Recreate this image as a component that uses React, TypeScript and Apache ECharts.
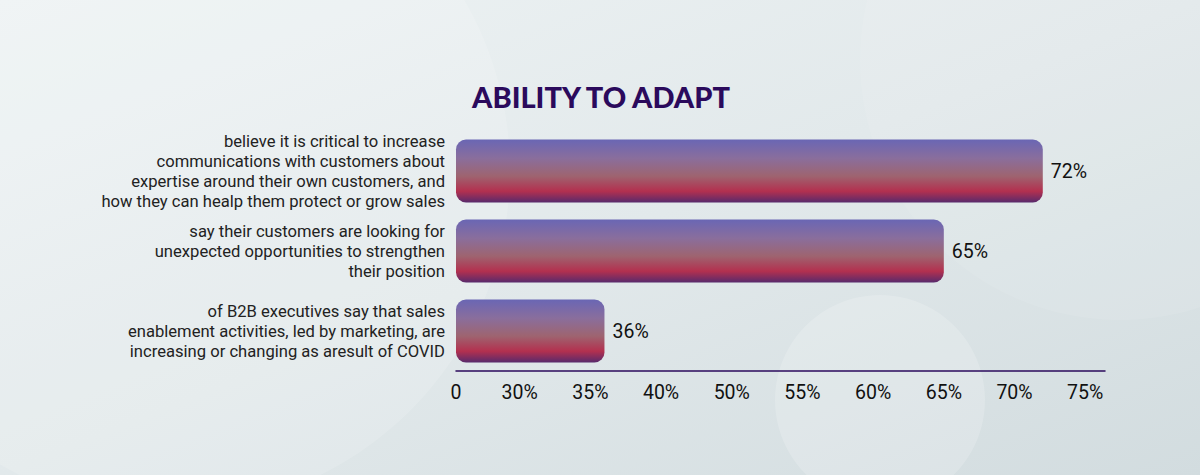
import React, { useEffect, useRef } from "react";
import * as echarts from "echarts";

const title = "ABILITY TO ADAPT";
const categories = [
  "believe it is critical to increase\ncommunications with customers about\nexpertise around their own customers, and\nhow they can healp them protect or grow sales",
  "say their customers are looking for\nunexpected opportunities to strengthen\ntheir position",
  "of B2B executives say that sales\nenablement activities, led by marketing, are\nincreasing or changing as aresult of COVID",
];
const values = [72, 65, 36];
const tickValues = [0, 30, 35, 40, 50, 55, 60, 65, 70, 75];
const tickLabels = ["0", "30%", "35%", "40%", "50%", "55%", "60%", "65%", "70%", "75%"];

export default function App() {
  const ref = useRef<HTMLDivElement>(null);
  useEffect(() => {
    if (!ref.current) return;
    const chart = echarts.init(ref.current, null, { renderer: "svg" });
    const barGradient = new echarts.graphic.LinearGradient(0, 0, 0, 1, [
      { offset: 0, color: "#6a66b4" },
      { offset: 0.3, color: "#8a6e9c" },
      { offset: 0.58, color: "#9e6470" },
      { offset: 0.82, color: "#b3304f" },
      { offset: 1, color: "#582a6c" },
    ]);
    chart.setOption({
      animation: false,
      backgroundColor: new echarts.graphic.LinearGradient(0, 0, 1, 1, [
        { offset: 0, color: "#eef3f4" },
        { offset: 0.5, color: "#e2e9eb" },
        { offset: 1, color: "#d2dcdf" },
      ]),
      graphic: [
        { type: "circle", silent: true, z: -10, shape: { cx: 170, cy: 170, r: 340 }, style: { fill: "rgba(255,255,255,0.14)" } },
        { type: "circle", silent: true, z: -10, shape: { cx: 1120, cy: 60, r: 260 }, style: { fill: "rgba(255,255,255,0.08)" } },
        { type: "circle", silent: true, z: -10, shape: { cx: 880, cy: 400, r: 105 }, style: { fill: "rgba(255,255,255,0.18)" } },
      ],
      title: {
        text: title,
        left: 596,
        textAlign: "center",
        top: 77,
        textStyle: {
          fontFamily: "Lato",
          fontWeight: 900,
          fontSize: 29,
          color: "#2b0a5c",
        },
      },
      grid: { left: 456, right: 95, top: 131, bottom: 104, containLabel: false },
      xAxis: [
        {
          type: "value",
          min: 0,
          max: 76.4,
          interval: 5,
          breaks: [
            { start: 0, end: 30, gap: 4.5 },
            { start: 40, end: 50, gap: 5 },
          ],
          breakArea: { show: false },
          splitLine: { show: false },
          axisTick: { show: false },
          axisLine: { show: false },
          axisLabel: {
            showMaxLabel: false,
            margin: 11,
            fontFamily: "Roboto",
            fontSize: 19.5,
            color: "#111111",
            formatter: (v: number) => {
              const i = tickValues.indexOf(Math.round(v * 100) / 100);
              return i >= 0 ? tickLabels[i] : "";
            },
          },
        },
        {
          type: "value",
          position: "bottom",
          min: 0,
          max: 1,
          splitLine: { show: false },
          axisTick: { show: false },
          axisLabel: { show: false },
          axisLine: { show: true, onZero: false, lineStyle: { color: "#2b0a5c", width: 1.5 } },
        },
      ],
      yAxis: {
        type: "category",
        inverse: true,
        data: categories,
        axisLine: { show: false },
        axisTick: { show: false },
        splitLine: { show: false },
        axisLabel: {
          margin: 11,
          align: "right",
          fontFamily: "Roboto",
          fontSize: 16.6,
          lineHeight: 20,
          color: "#222222",
        },
      },
      series: [
        {
          type: "bar",
          xAxisIndex: 0,
          data: values,
          barWidth: 63,
          itemStyle: { color: barGradient, borderRadius: 10 },
          label: {
            show: true,
            position: "right",
            distance: 8,
            fontFamily: "Roboto",
            fontSize: 19.5,
            color: "#111111",
            formatter: (p: any) => p.value + "%",
          },
        },
      ],
    });
    return () => chart.dispose();
  }, []);
  return (
    <div
      ref={ref}
      style={{ position: "fixed", left: 0, top: 0, width: 1200, height: 475 }}
    />
  );
}
